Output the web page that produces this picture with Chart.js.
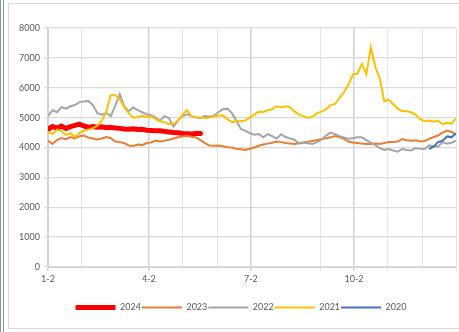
<!DOCTYPE html>
<html>
<head>
<meta charset="utf-8">
<script src="https://cdn.jsdelivr.net/npm/chart.js@4"></script>
<style>
  html, body { margin: 0; padding: 0; background: #fff; }
  #wrap { position: relative; width: 459px; height: 332px; overflow: hidden; }
  .edge { position: absolute; top: 0; bottom: 0; width: 1px; background: #8596b3; }
  #frame { position: absolute; left: 8px; top: 3px; width: 470px; height: 324px; border: 1px solid #d9d9d9; }
  canvas { position: absolute; left: 0; top: 0; }
</style>
</head>
<body>
<div id="wrap">
  <div class="edge" style="left:0"></div>
  <div class="edge" style="left:3px"></div>
  <div id="frame"></div>
  <canvas id="chart" width="459" height="332"></canvas>
</div>
<script>
// x axis is day of year counted from 1-2, one sample every 4 days
const STEP = 4;
const gridDays = [0, 30, 90, 120, 151, 181, 243, 273, 303, 334, 364];
const labelDays = [0, 90, 181, 273];
const labelTexts = ['1-2', '4-2', '7-2', '10-2'];

const years = ['2024', '2023', '2022', '2021', '2020'];
const colors = ['#ff0000', '#ed7d31', '#a5a5a5', '#ffc000', '#4472c4'];

const y2024 = [4610, 4700, 4650, 4720, 4640, 4700, 4740, 4780, 4720, 4670,
  4700, 4680, 4690, 4660, 4680, 4650, 4640, 4620, 4610, 4630,
  4600, 4610, 4580, 4570, 4560, 4560, 4540, 4520, 4500, 4490,
  4470, 4460, 4450, 4470, 4470];

const y2023 = [4230, 4120, 4250, 4320, 4280, 4350, 4300, 4380, 4400, 4330,
  4300, 4270, 4300, 4350, 4310, 4200, 4180, 4150, 4070, 4050,
  4100, 4080, 4150, 4170, 4230, 4200, 4230, 4260, 4300, 4340,
  4370, 4390, 4360, 4340, 4250, 4150, 4070, 4060, 4070, 4040,
  4010, 4000, 3960, 3940, 3920, 3960, 4000, 4060, 4100, 4130,
  4160, 4200, 4180, 4150, 4130, 4120, 4150, 4170, 4190, 4220,
  4250, 4280, 4310, 4340, 4380, 4350, 4290, 4200, 4170, 4150,
  4130, 4120, 4120, 4130, 4120, 4150, 4180, 4180, 4200, 4280,
  4240, 4230, 4240, 4200, 4220, 4290, 4350, 4400, 4500, 4560,
  4530, 4420];

const y2022 = [5050, 5250, 5180, 5350, 5300, 5380, 5420, 5520, 5540, 5560,
  5420, 5150, 5100, 5150, 5050, 5400, 5780, 5380, 5210, 5340,
  5250, 5180, 5110, 5080, 5000, 4890, 5050, 4980, 4700, 4900,
  5050, 5110, 5050, 5000, 4990, 5050, 5030, 5060, 5180, 5280,
  5300, 5150, 4900, 4620, 4560, 4480, 4430, 4450, 4340, 4450,
  4380, 4300, 4440, 4350, 4300, 4260, 4130, 4160, 4140, 4120,
  4180, 4260, 4400, 4500, 4450, 4380, 4340, 4290, 4310, 4340,
  4340, 4250, 4160, 4080, 3980, 3920, 3950, 3900, 3860, 3950,
  3920, 3900, 3980, 3960, 3950, 4070, 4040, 4030, 4180, 4130,
  4160, 4230];

const y2021 = [4520, 4450, 4600, 4550, 4420, 4480, 4350, 4480, 4560, 4600,
  4650, 4720, 4900, 5200, 5750, 5760, 5620, 5350, 5150, 5000,
  5020, 5050, 5030, 5040, 4950, 4880, 4850, 4780, 4800, 4900,
  5100, 5250, 5050, 5020, 5000, 4980, 5000, 5050, 5060, 5080,
  4950, 4850, 4880, 4880, 4900, 5000, 5100, 5200, 5180, 5250,
  5280, 5380, 5350, 5380, 5350, 5200, 5100, 5050, 4990, 5030,
  5150, 5200, 5280, 5420, 5450, 5650, 5850, 6100, 6450, 6470,
  6800, 6450, 7350, 6700, 6300, 5550, 5600, 5450, 5300, 5220,
  5210, 5180, 5100, 4950, 4880, 4900, 4860, 4900, 4780, 4830,
  4800, 4970];

// 2020 only shows up at the very end of the year
const start2020 = 340;
const y2020 = [3950, 4030, 4180, 4230, 4370, 4340, 4480];

const toPoints = (values, startDay) => values.map((v, i) => ({x: startDay + i * STEP, y: v}));

const seriesData = [toPoints(y2024, 0), toPoints(y2023, 0), toPoints(y2022, 0), toPoints(y2021, 0), toPoints(y2020, start2020)];

const textColor = '#595959';
const font = {family: 'Lato', size: 9};

const datasets = years.map((year, i) => ({
    label: year,
    data: seriesData[i],
    borderColor: colors[i],
    backgroundColor: colors[i],
    borderWidth: i === 0 ? 5 : 2,
    borderCapStyle: i === 0 ? 'round' : 'butt',
    pointRadius: 0,
    tension: 0,
    fill: false,
    order: years.length - i   // later years drawn on top, like Excel
}));

// the legend in the original sits a bit right of the canvas centre
const legendShift = {
    id: 'legendShift',
    afterLayout(chart) {
        chart.legend.left += 13;
        chart.legend.right += 13;
    }
};

const ctx = document.getElementById('chart').getContext('2d');
const chart = new Chart(ctx, {
    type: 'line',
    data: {datasets: datasets},
    plugins: [legendShift],
    options: {
        responsive: false,
        animation: false,
        layout: {padding: {left: 0, right: 3, top: 28, bottom: 10}},
        plugins: {
            legend: {
                position: 'bottom',
                labels: {
                    usePointStyle: true,
                    pointStyle: 'line',
                    pointStyleWidth: 40,
                    color: textColor,
                    font: font,
                    padding: 1,
                    sort: (a, b) => a.datasetIndex - b.datasetIndex
                }
            },
            tooltip: {enabled: false}
        },
        scales: {
            x: {
                type: 'linear',
                min: 0,
                max: 364,
                afterBuildTicks: scale => {
                    scale.ticks = gridDays.map(d => ({value: d}));
                },
                afterFit: scale => { scale.height = 35; },
                ticks: {
                    autoSkip: false,
                    maxRotation: 0,
                    color: textColor,
                    font: font,
                    padding: 3,
                    callback: value => {
                        const k = labelDays.indexOf(value);
                        return k >= 0 ? labelTexts[k] : '';
                    }
                },
                grid: {
                    color: c => labelDays.includes(c.tick.value) ? '#d2d2d2' : '#e6e6e6',
                    lineWidth: c => labelDays.includes(c.tick.value) ? 1.5 : 1,
                    tickLength: 4
                },
                border: {color: '#d2d2d2'}
            },
            y: {
                min: 0,
                max: 8000,
                afterFit: scale => { scale.width = 48; },
                ticks: {stepSize: 1000, color: textColor, font: font, padding: 4, callback: v => String(v)},
                grid: {color: '#dadada', lineWidth: 1.3, tickLength: 4},
                border: {color: '#d2d2d2'}
            }
        }
    }
});
</script>
</body>
</html>
